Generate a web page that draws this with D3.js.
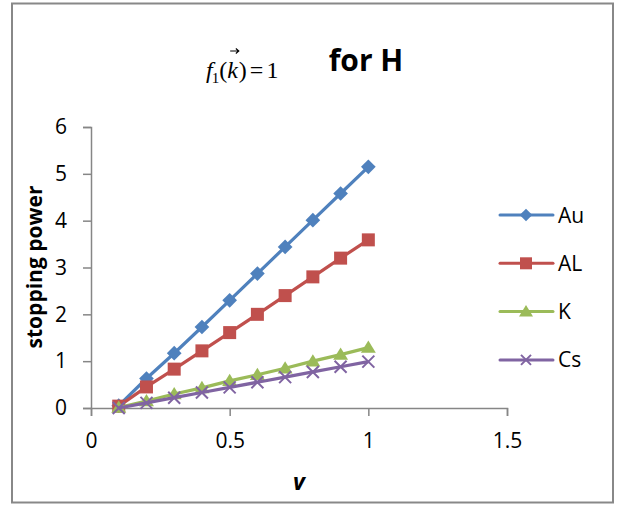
<!DOCTYPE html>
<html><head><meta charset="utf-8">
<script src="https://cdn.jsdelivr.net/npm/d3@7"></script>
<style>html,body{margin:0;padding:0;background:#fff;} svg{display:block;}</style>
</head><body>
<svg id="c" width="620" height="508"></svg>
<script>
const xValues = [0.1,0.2,0.3,0.4,0.5,0.6,0.7,0.8,0.9,1.0];
const seriesNames = ["Au","AL","K","Cs"];
const auValues = [0.05,0.63,1.17,1.73,2.30,2.87,3.44,4.01,4.58,5.15];
const alValues = [0.04,0.45,0.83,1.22,1.61,2.00,2.40,2.80,3.20,3.59];
const kValues  = [0.01,0.15,0.30,0.43,0.58,0.71,0.85,1.00,1.14,1.29];
const csValues = [0.00,0.11,0.22,0.33,0.44,0.55,0.66,0.77,0.88,0.99];
const xTicks = [0,0.5,1,1.5];
const yTicks = [0,1,2,3,4,5,6];
const colors = ["#4F81BD","#C0504D","#9BBB59","#8064A2"];
const markers = ["diamond","square","triangle","x"];
const allValues = [auValues, alValues, kValues, csValues];

const svg = d3.select("#c");
svg.append("rect").attr("x",12).attr("y",3.5).attr("width",601).attr("height",499)
  .attr("fill","#fff").attr("stroke","#888").attr("stroke-width",2);

const x = d3.scaleLinear().domain([0,1.5]).range([91,507]);
const y = d3.scaleLinear().domain([0,6]).range([408,127]);
const font = "'Open Sans', 'Noto Sans', sans-serif";
const axisColor = "#868686";

const xa = svg.append("g").attr("transform","translate(0,408)")
  .call(d3.axisBottom(x).tickValues(xTicks).tickSize(8).tickPadding(17).tickFormat(d3.format("")));
const ya = svg.append("g").attr("transform","translate(91,0)")
  .call(d3.axisLeft(y).tickValues(yTicks).tickSize(8).tickPadding(16).tickFormat(d3.format("d")));
[xa,ya].forEach(a=>{
  a.select(".domain").attr("stroke",axisColor).attr("stroke-width",1.5);
  a.selectAll(".tick line").attr("stroke",axisColor).attr("stroke-width",1.5);
  a.selectAll(".tick text").attr("fill","#000").style("font-family",font).style("font-size","21px");
});

function drawMarker(g, type, color, size){
  if(type==="diamond"){
    g.append("path").attr("d",`M0,${-size/2*1.4}L${size/2*1.4},0L0,${size/2*1.4}L${-size/2*1.4},0Z`).attr("fill",color);
  } else if(type==="square"){
    g.append("rect").attr("x",-size/2).attr("y",-size/2).attr("width",size).attr("height",size).attr("fill",color);
  } else if(type==="triangle"){
    const h = size*0.9;
    g.append("path").attr("d",`M0,${-h*0.6}L${size/2+1},${h*0.45}L${-size/2-1},${h*0.45}Z`).attr("fill",color);
  } else {
    const s = size/2;
    g.append("path").attr("d",`M${-s},${-s}L${s},${s}M${-s},${s}L${s},${-s}`)
     .attr("stroke",color).attr("stroke-width",2).attr("fill","none");
  }
}

const line = d3.line().x(d=>x(d[0])).y(d=>y(d[1]));
const markerSizes = [10.5,13,13,12];
allValues.forEach((vals,i)=>{
  const pts = xValues.map((xv,j)=>[xv,vals[j]]);
  const g = svg.append("g");
  g.append("path").datum(pts).attr("d",line).attr("fill","none")
    .attr("stroke",colors[i]).attr("stroke-width",3.2).attr("stroke-linejoin","round");
  pts.forEach(p=>{
    const mg = g.append("g").attr("transform",`translate(${x(p[0])},${y(p[1])})`);
    drawMarker(mg, markers[i], colors[i], markerSizes[i]);
  });
});

seriesNames.forEach((name,i)=>{
  const ly = 215 + i*48.3;
  const g = svg.append("g");
  g.append("line").attr("x1",500).attr("x2",553).attr("y1",ly).attr("y2",ly)
    .attr("stroke",colors[i]).attr("stroke-width",3).attr("stroke-linecap","round");
  const mg = g.append("g").attr("transform",`translate(526,${ly})`);
  drawMarker(mg, markers[i], colors[i], [9,12,12,10][i]);
  g.append("text").attr("x",558).attr("y",ly+7.5).text(name)
    .style("font-family",font).style("font-size","21px").attr("fill","#000");
});

svg.append("text").attr("x",366).attr("y",71).attr("text-anchor","middle").text("for H")
  .style("font-family",font).style("font-weight","bold").style("font-size","30px");

const f = svg.append("text").attr("x",206).attr("y",78)
  .style("font-family","'Liberation Serif', 'DejaVu Serif', serif").style("font-size","24px");
f.append("tspan").style("font-style","italic").text("f");
f.append("tspan").attr("dy",5).attr("dx",-1).style("font-size","15px").text("1");
f.append("tspan").attr("dy",-5).text("(");
f.append("tspan").style("font-style","italic").text("k");
f.append("tspan").attr("dx",1).text(")");
f.append("tspan").attr("dx",3).text("=");
f.append("tspan").attr("dx",3).text("1");
const kb = f.node().getExtentOfChar(3);
const ax0 = kb.x + 3, ax1 = kb.x + kb.width + 1, ay = 51;
svg.append("path").attr("d",`M${ax0},${ay}L${ax1},${ay}M${ax1-3},${ay-2.5}L${ax1},${ay}L${ax1-3},${ay+2.5}`)
  .attr("stroke","#000").attr("stroke-width",1.1).attr("fill","none");

svg.append("text").attr("x",299).attr("y",490).attr("text-anchor","middle").text("v")
  .style("font-family",font).style("font-weight","bold").style("font-style","italic").style("font-size","23px");

svg.append("text").attr("transform","translate(42,267) rotate(-90)").attr("text-anchor","middle")
  .text("stopping power").style("font-family",font).style("font-weight","bold").style("font-size","21px");
</script>
</body></html>
